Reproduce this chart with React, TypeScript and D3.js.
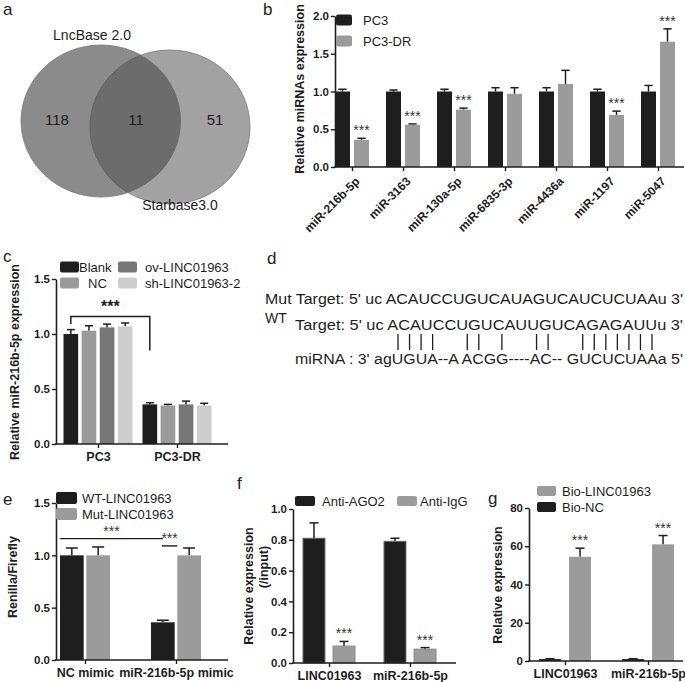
import React, { useEffect, useRef } from 'react';
import * as d3 from 'd3';

const FONT = '"Liberation Sans", Arial, Helvetica, sans-serif';
const BLACK = '#1e1e1e';
const GRAY = '#9b9b9b';

// ---- panel a: venn
const vennNames = ['LncBase 2.0', 'Starbase3.0'];
const vennCounts = [118, 11, 51]; // left only, shared, right only

// ---- panel b
const bCategories = ['miR-216b-5p', 'miR-3163', 'miR-130a-5p', 'miR-6835-3p', 'miR-4436a', 'miR-1197', 'miR-5047'];
const bPC3 = [1.0, 1.0, 1.0, 1.0, 1.0, 1.0, 1.0];
const bPC3Err = [0.03, 0.02, 0.03, 0.05, 0.05, 0.03, 0.08];
const bDR = [0.36, 0.56, 0.76, 0.97, 1.1, 0.69, 1.66];
const bDRErr = [0.02, 0.01, 0.02, 0.08, 0.18, 0.05, 0.17];
const bDRSig = [true, true, true, false, false, true, true];
const bTicks = [0, 0.5, 1, 1.5, 2];

// ---- panel c
const cGroups = ['PC3', 'PC3-DR'];
const cBlank = [1.0, 0.36];
const cBlankErr = [0.04, 0.015];
const cNC = [1.03, 0.35];
const cNCErr = [0.045, 0.01];
const cOv = [1.06, 0.36];
const cOvErr = [0.03, 0.03];
const cSh = [1.07, 0.35];
const cShErr = [0.03, 0.02];
const cTicks = [0, 0.5, 1, 1.5];

// ---- panel d
const dMut = "Mut  Target: 5' uc ACAUCCUGUCAUAGUCAUCUCUAAu 3'";
const dWT = "Target:  5'  uc ACAUCCUGUCAUUGUCAGAGAUUu 3'";
const dMiRNA = "miRNA : 3' agUGUA--A ACGG----AC-- GUCUCUAAa 5'";
const dPairs = [0, 1, 2, 3, 6, 7, 9, 12, 13, 16, 17, 18, 19, 20, 21, 22];

// ---- panel e
const eGroups = ['NC mimic', 'miR-216b-5p mimic'];
const eWT = [1.0, 0.36];
const eWTErr = [0.07, 0.02];
const eMut = [1.0, 1.0];
const eMutErr = [0.08, 0.07];
const eTicks = [0, 0.5, 1, 1.5];

// ---- panel f
const fGroups = ['LINC01963', 'miR-216b-5p'];
const fAGO2 = [0.81, 0.79];
const fAGO2Err = [0.1, 0.02];
const fIgG = [0.11, 0.09];
const fIgGErr = [0.03, 0.01];
const fIgGSig = [true, true];
const fTicks = [0, 0.2, 0.4, 0.6, 0.8, 1.0];

// ---- panel g
const gGroups = ['LINC01963', 'miR-216b-5p'];
const gNC = [1.0, 1.0];
const gNCErr = [0.2, 0.2];
const gBio = [54.5, 61];
const gBioErr = [4.5, 4.6];
const gBioSig = [true, true];
const gTicks = [0, 20, 40, 60, 80];

type Series = { name: string; values: number[]; errors: number[]; color: string; stroke?: string; stars?: boolean[] };

interface PanelCfg {
  groups: string[];
  series: Series[];
  yDomain: [number, number];
  yTicks: number[];
  fmt: (d: number) => string;
  axisX: number;
  axisEnd: number;
  yTop: number;
  yBottom: number;
  firstCenter: number;
  lastCenter: number;
  barSpan: number;
  barPad: number;
  rotateLabels?: boolean;
  capW?: number;
}

type Sel = d3.Selection<SVGGElement, unknown, null, undefined>;

function drawPanel(root: Sel, cfg: PanelCfg) {
  const g = root.append('g');
  const y = d3.scaleLinear().domain(cfg.yDomain).range([cfg.yBottom, cfg.yTop]);
  const x = d3.scalePoint<string>().domain(cfg.groups).range([cfg.firstCenter, cfg.lastCenter]);
  const inner = d3.scaleBand<string>()
    .domain(cfg.series.map(s => s.name))
    .range([-cfg.barSpan / 2, cfg.barSpan / 2])
    .paddingInner(cfg.barPad);
  const bw = inner.bandwidth();
  const capW = cfg.capW ?? Math.min(bw * 0.55, 9);

  cfg.series.forEach(s => {
    s.values.forEach((v, i) => {
      const x0 = (x(cfg.groups[i]) as number) + (inner(s.name) as number);
      const cx = x0 + bw / 2;
      const top = y(v + s.errors[i]);
      g.append('line')
        .attr('x1', cx).attr('x2', cx)
        .attr('y1', y(v)).attr('y2', top)
        .attr('stroke', BLACK).attr('stroke-width', 1.5);
      g.append('line')
        .attr('x1', cx - capW / 2).attr('x2', cx + capW / 2)
        .attr('y1', top).attr('y2', top)
        .attr('stroke', BLACK).attr('stroke-width', 1.5);
      g.append('rect')
        .attr('x', x0).attr('width', bw)
        .attr('y', y(v)).attr('height', cfg.yBottom - y(v))
        .attr('fill', s.color)
        .attr('stroke', s.stroke ?? 'none')
        .attr('stroke-width', 1);
      if (s.stars && s.stars[i]) {
        g.append('text')
          .attr('x', cx).attr('y', top - 3)
          .attr('text-anchor', 'middle')
          .attr('font-size', 14)
          .attr('fill', '#333')
          .text('***');
      }
    });
  });

  const ya = g.append('g')
    .attr('transform', `translate(${cfg.axisX},0)`)
    .call(d3.axisLeft(y).tickValues(cfg.yTicks).tickFormat(d => cfg.fmt(d as number)).tickSize(4).tickSizeOuter(0));
  ya.select('.domain').attr('stroke', BLACK).attr('stroke-width', 1.6);
  ya.selectAll('.tick line').attr('stroke', BLACK).attr('stroke-width', 1.4);
  ya.selectAll('.tick text')
    .attr('font-family', FONT).attr('font-size', 11.5).attr('font-weight', 'bold').attr('fill', BLACK).attr('x', -6);

  const xa = g.append('g')
    .attr('transform', `translate(0,${cfg.yBottom})`)
    .call(d3.axisBottom(x).tickSize(4).tickSizeOuter(0));
  xa.select('.domain').remove();
  xa.selectAll('.tick line').attr('stroke', BLACK).attr('stroke-width', 1.4);
  if (cfg.rotateLabels) {
    xa.selectAll('.tick text')
      .attr('font-family', FONT).attr('font-size', 12).attr('font-weight', 'bold').attr('fill', BLACK)
      .attr('text-anchor', 'end')
      .attr('y', 0).attr('dy', '0.35em')
      .attr('transform', 'translate(5,12) rotate(-45)');
  } else {
    xa.selectAll('.tick text')
      .attr('font-family', FONT).attr('font-size', 12.5).attr('font-weight', 'bold').attr('fill', BLACK)
      .attr('y', 8);
  }
  g.append('line')
    .attr('x1', cfg.axisX - 0.8).attr('x2', cfg.axisEnd)
    .attr('y1', cfg.yBottom).attr('y2', cfg.yBottom)
    .attr('stroke', BLACK).attr('stroke-width', 1.6);

  return { x, y, inner, bw };
}

function legend(root: Sel, items: { label: string; color: string; x: number; y: number; tx: number }[], size = 13, w = 18, h = 11) {
  items.forEach(it => {
    root.append('rect')
      .attr('x', it.x).attr('y', it.y - h / 2).attr('width', w).attr('height', h)
      .attr('rx', 2).attr('fill', it.color);
    root.append('text')
      .attr('x', it.tx).attr('y', it.y).attr('dy', '0.36em')
      .attr('font-family', FONT).attr('font-size', size).attr('fill', BLACK)
      .text(it.label);
  });
}

function vTitle(root: Sel, text: string, x: number, y: number, size = 12) {
  root.append('text')
    .attr('transform', `translate(${x},${y}) rotate(-90)`)
    .attr('text-anchor', 'middle').attr('dy', '0.36em')
    .attr('font-family', FONT).attr('font-size', size).attr('font-weight', 'bold').attr('fill', BLACK)
    .text(text);
}

function letter(root: Sel, t: string, x: number, y: number) {
  root.append('text').attr('x', x).attr('y', y)
    .attr('font-family', FONT).attr('font-size', 17).attr('fill', BLACK).text(t);
}

const App: React.FC = () => {
  const svgRef = useRef<SVGSVGElement>(null);

  useEffect(() => {
    if (!svgRef.current) return;
    d3.select(svgRef.current).selectAll('*').remove();
    const root = d3.select(svgRef.current).append('g') as unknown as Sel;
    root.attr('font-family', FONT);

    // ---------- a: venn
    letter(root, 'a', 3, 15);
    const venn = [
      { cx: 101, cy: 121, rx: 80, ry: 76, fill: '#8b8b8b' },
      { cx: 170, cy: 127, rx: 80, ry: 77, fill: '#a2a2a2' },
    ];
    const defs = root.append('defs');
    defs.append('clipPath').attr('id', 'vennclip')
      .append('ellipse').attr('cx', venn[0].cx).attr('cy', venn[0].cy).attr('rx', venn[0].rx).attr('ry', venn[0].ry);
    venn.forEach(c => {
      root.append('ellipse').attr('cx', c.cx).attr('cy', c.cy).attr('rx', c.rx).attr('ry', c.ry)
        .attr('fill', c.fill).attr('stroke', '#7a7a7a').attr('stroke-width', 0.8);
    });
    root.append('ellipse').attr('clip-path', 'url(#vennclip)')
      .attr('cx', venn[1].cx).attr('cy', venn[1].cy).attr('rx', venn[1].rx).attr('ry', venn[1].ry)
      .attr('fill', '#6c6c6c').attr('stroke', '#5e5e5e').attr('stroke-width', 0.8);
    root.append('text').attr('x', 92).attr('y', 40).attr('text-anchor', 'middle')
      .attr('font-size', 14).attr('fill', BLACK).text(vennNames[0]);
    root.append('text').attr('x', 180).attr('y', 210).attr('text-anchor', 'middle')
      .attr('font-size', 14).attr('fill', BLACK).text(vennNames[1]);
    const vennX = [57, 136, 215];
    vennCounts.forEach((n, i) => {
      root.append('text').attr('x', vennX[i]).attr('y', 120).attr('dy', '0.36em').attr('text-anchor', 'middle')
        .attr('font-size', 15).attr('fill', BLACK).text(String(n));
    });

    // ---------- b
    letter(root, 'b', 263, 15);
    drawPanel(root, {
      groups: bCategories,
      series: [
        { name: 'PC3', values: bPC3, errors: bPC3Err, color: BLACK },
        { name: 'PC3-DR', values: bDR, errors: bDRErr, color: GRAY, stars: bDRSig },
      ],
      yDomain: [0, 2], yTicks: bTicks, fmt: d3.format('.1f'),
      axisX: 335, axisEnd: 684, yTop: 16, yBottom: 167,
      firstCenter: 352, lastCenter: 658, barSpan: 34, barPad: 0.21, rotateLabels: true,
    });
    vTitle(root, 'Relative miRNAs expression', 299, 89, 12.5);
    legend(root, [
      { label: 'PC3', color: BLACK, x: 336, y: 20, tx: 363 },
      { label: 'PC3-DR', color: GRAY, x: 336, y: 41, tx: 363 },
    ], 13, 16, 11);

    // ---------- c
    letter(root, 'c', 3, 262);
    const c = drawPanel(root, {
      groups: cGroups,
      series: [
        { name: 'Blank', values: cBlank, errors: cBlankErr, color: BLACK },
        { name: 'NC', values: cNC, errors: cNCErr, color: '#9a9a9a' },
        { name: 'ov', values: cOv, errors: cOvErr, color: '#767676' },
        { name: 'sh', values: cSh, errors: cShErr, color: '#cdcdcd' },
      ],
      yDomain: [0, 1.5], yTicks: cTicks, fmt: d3.format('.1f'),
      axisX: 56, axisEnd: 228, yTop: 279, yBottom: 444,
      firstCenter: 98, lastCenter: 177, barSpan: 69, barPad: 0.19,
    });
    vTitle(root, 'Relative miR-216b-5p  expression', 14, 362, 12.5);
    legend(root, [
      { label: 'Blank', color: BLACK, x: 60, y: 267, tx: 79 },
      { label: 'NC', color: '#9a9a9a', x: 60, y: 283, tx: 88 },
      { label: 'ov-LINC01963', color: '#767676', x: 118, y: 267, tx: 145 },
      { label: 'sh-LINC01963-2', color: '#cdcdcd', x: 118, y: 283, tx: 145 },
    ], 13, 19, 11);
    {
      const lx = (c.x('PC3') as number) + (c.inner('Blank') as number) + c.bw / 2;
      const rx = (c.x('PC3-DR') as number) + (c.inner('Blank') as number) + c.bw / 2;
      const topY = c.y(1.16);
      root.append('path')
        .attr('d', `M${lx},${c.y(1.09)}V${topY}H${rx}V${c.y(0.85)}`)
        .attr('fill', 'none').attr('stroke', BLACK).attr('stroke-width', 1.5);
      root.append('text').attr('x', (lx + rx) / 2).attr('y', topY - 4).attr('text-anchor', 'middle')
        .attr('font-size', 16).attr('font-weight', 'bold').attr('fill', BLACK).text('***');
    }

    // ---------- d
    letter(root, 'd', 267, 264);
    const seqText = (t: string, x: number, y: number, x1: number) => {
      root.append('text').attr('x', x).attr('y', y)
        .attr('font-size', 15.5).attr('fill', BLACK)
        .attr('textLength', x1 - x).attr('lengthAdjust', 'spacingAndGlyphs')
        .text(t);
    };
    seqText(dMut, 265, 304, 683);
    root.append('text').attr('x', 265).attr('y', 323).attr('font-size', 14).attr('fill', BLACK).text('WT');
    seqText(dWT, 295, 330, 683);
    seqText(dMiRNA, 295, 364, 683);
    const px = d3.scaleLinear().domain([0, 22]).range([398, 652]);
    dPairs.forEach(p => {
      root.append('line').attr('x1', px(p)).attr('x2', px(p)).attr('y1', 334).attr('y2', 350)
        .attr('stroke', BLACK).attr('stroke-width', 1.3);
    });

    // ---------- e
    letter(root, 'e', 3, 505);
    const e = drawPanel(root, {
      groups: eGroups,
      series: [
        { name: 'WT', values: eWT, errors: eWTErr, color: BLACK },
        { name: 'Mut', values: eMut, errors: eMutErr, color: GRAY },
      ],
      yDomain: [0, 1.5], yTicks: eTicks, fmt: d3.format('.1f'),
      axisX: 56, axisEnd: 228, yTop: 503, yBottom: 660,
      firstCenter: 85, lastCenter: 176, barSpan: 50, barPad: 0.1, capW: 12,
    });
    vTitle(root, 'Renilla/Firefly', 12, 577, 12.5);
    legend(root, [
      { label: 'WT-LINC01963', color: BLACK, x: 56, y: 498, tx: 82 },
      { label: 'Mut-LINC01963', color: GRAY, x: 56, y: 514, tx: 82 },
    ], 13, 21, 12);
    {
      const l1a = (e.x('NC mimic') as number) + (e.inner('WT') as number);
      const l1b = (e.x('miR-216b-5p mimic') as number) + (e.inner('WT') as number) + e.bw / 2;
      const l2a = l1b - 1;
      const l2b = (e.x('miR-216b-5p mimic') as number) + (e.inner('Mut') as number);
      root.append('line').attr('x1', l1a).attr('x2', l1b).attr('y1', e.y(1.16)).attr('y2', e.y(1.16))
        .attr('stroke', BLACK).attr('stroke-width', 1.4);
      root.append('text').attr('x', (l1a + l1b) / 2).attr('y', e.y(1.16) - 3).attr('text-anchor', 'middle')
        .attr('font-size', 14).attr('fill', '#333').text('***');
      root.append('line').attr('x1', l2a).attr('x2', l2b).attr('y1', e.y(1.09)).attr('y2', e.y(1.09))
        .attr('stroke', BLACK).attr('stroke-width', 1.4);
      root.append('text').attr('x', (l2a + l2b) / 2).attr('y', e.y(1.09) - 3).attr('text-anchor', 'middle')
        .attr('font-size', 14).attr('fill', '#333').text('***');
    }

    // ---------- f
    letter(root, 'f', 237, 489);
    drawPanel(root, {
      groups: fGroups,
      series: [
        { name: 'Anti-AGO2', values: fAGO2, errors: fAGO2Err, color: BLACK, stroke: '#666' },
        { name: 'Anti-IgG', values: fIgG, errors: fIgGErr, color: GRAY, stroke: '#8a8a8a', stars: fIgGSig },
      ],
      yDomain: [0, 1], yTicks: fTicks, fmt: d3.format('.1f'),
      axisX: 293, axisEnd: 456, yTop: 509, yBottom: 663,
      firstCenter: 329, lastCenter: 410, barSpan: 52, barPad: 0.27,
    });
    vTitle(root, 'Relative expression', 248, 586, 12.5);
    vTitle(root, '(/input)', 263, 567, 12.5);
    legend(root, [
      { label: 'Anti-AGO2', color: BLACK, x: 295, y: 501, tx: 322 },
      { label: 'Anti-IgG', color: GRAY, x: 397, y: 501, tx: 420 },
    ], 13, 20, 10);

    // ---------- g
    letter(root, 'g', 488, 504);
    drawPanel(root, {
      groups: gGroups,
      series: [
        { name: 'Bio-NC', values: gNC, errors: gNCErr, color: BLACK },
        { name: 'Bio-LINC01963', values: gBio, errors: gBioErr, color: GRAY, stars: gBioSig },
      ],
      yDomain: [0, 80], yTicks: gTicks, fmt: d3.format('d'),
      axisX: 529, axisEnd: 683, yTop: 508, yBottom: 661,
      firstCenter: 565, lastCenter: 648, barSpan: 52, barPad: 0.27,
    });
    vTitle(root, 'Relative expression', 497, 585, 12.5);
    legend(root, [
      { label: 'Bio-LINC01963', color: GRAY, x: 537, y: 491, tx: 562 },
      { label: 'Bio-NC', color: BLACK, x: 537, y: 507, tx: 562 },
    ], 13, 19, 10);
  }, []);

  return (
    <svg ref={svgRef} width={685} height={682}
      style={{ position: 'absolute', left: 0, top: 0, background: '#fff' }} />
  );
};

export default App;
